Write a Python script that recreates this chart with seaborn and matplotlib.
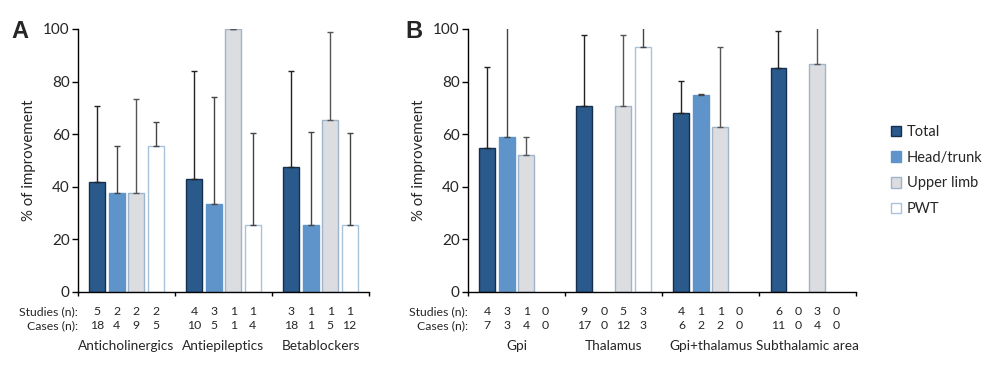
import numpy as np
import pandas as pd
import matplotlib.pyplot as plt
import seaborn as sns
from matplotlib.patches import Patch

# --------------------------
# Data
# --------------------------
series = ['Total', 'Head/trunk', 'Upper limb', 'PWT']

groups_a = ['Anticholinergics', 'Antiepileptics', 'Betablockers']
values_a = {
    'Total':      [42.0, 43.0, 47.5],
    'Head/trunk': [37.5, 33.5, 25.3],
    'Upper limb': [37.5, 100.0, 65.3],
    'PWT':        [55.5, 25.5, 25.5],
}
errors_a = {
    'Total':      [28.7, 40.9, 36.4],
    'Head/trunk': [18.0, 40.8, 35.4],
    'Upper limb': [35.8, 0.0, 33.7],
    'PWT':        [9.3, 35.0, 35.0],
}
studies_a = {'Total': [5, 4, 3], 'Head/trunk': [2, 3, 1], 'Upper limb': [2, 1, 1], 'PWT': [2, 1, 1]}
cases_a = {'Total': [18, 10, 18], 'Head/trunk': [4, 5, 1], 'Upper limb': [9, 1, 5], 'PWT': [5, 4, 12]}

groups_b = ['Gpi', 'Thalamus', 'Gpi+thalamus', 'Subthalamic area']
values_b = {
    'Total':      [54.9, 70.9, 68.0, 85.2],
    'Head/trunk': [58.8, np.nan, 75.0, np.nan],
    'Upper limb': [52.2, 70.6, 62.6, 86.6],
    'PWT':        [np.nan, 93.1, np.nan, np.nan],
}
errors_b = {
    'Total':      [30.7, 27.0, 12.3, 14.0],
    'Head/trunk': [45.0, np.nan, 0.3, np.nan],
    'Upper limb': [6.6, 27.0, 30.5, 20.0],
    'PWT':        [np.nan, 15.0, np.nan, np.nan],
}
studies_b = {'Total': [4, 9, 4, 6], 'Head/trunk': [3, 0, 1, 0], 'Upper limb': [1, 5, 1, 3], 'PWT': [0, 3, 0, 0]}
cases_b = {'Total': [7, 17, 6, 11], 'Head/trunk': [3, 0, 2, 0], 'Upper limb': [4, 12, 2, 4], 'PWT': [0, 3, 0, 0]}

face = {'Total': '#2a5a8c', 'Head/trunk': '#5e94c9', 'Upper limb': '#dcdde0', 'PWT': '#ffffff'}
edge = {'Total': '#15304f', 'Head/trunk': '#5e94c9', 'Upper limb': '#9fb3c9', 'PWT': '#a9c2dc'}
err_col = {'Total': '#222222', 'Head/trunk': '#444444', 'Upper limb': '#555555', 'PWT': '#444444'}

sns.set_theme(style="white")
plt.rcParams['font.family'] = ['Lato', 'DejaVu Sans']


def to_long(groups, values):
    rows = []
    for s in series:
        for g, v in zip(groups, values[s]):
            rows.append({'group': g, 'series': s, 'value': v})
    return pd.DataFrame(rows)


def draw_panel(ax, groups, values, errors, studies, cases):
    df = to_long(groups, values)
    sns.barplot(data=df, x='group', y='value', hue='series', order=groups,
                hue_order=series, palette=face, width=0.8, gap=0.18,
                errorbar=None, legend=False, ax=ax, saturation=1)
    n = len(groups)
    for s, cont in zip(series, ax.containers):
        for p in cont.patches:
            h = p.get_height()
            if not np.isfinite(h) or h == 0:
                continue
            p.set_edgecolor(edge[s])
            p.set_linewidth(1.0)
            xc = p.get_x() + p.get_width() / 2
            gi = int(round(xc))
            e = errors[s][gi]
            if np.isfinite(e):
                ax.errorbar([xc], [h], yerr=[[0], [e]], fmt='none', ecolor=err_col[s],
                            elinewidth=1.0, capsize=2, capthick=1.0, zorder=1)

    # counts under each bar
    offs = np.linspace(-0.3, 0.3, len(series))
    trans = ax.get_xaxis_transform()
    for si, s in enumerate(series):
        for gi in range(n):
            ax.text(gi + offs[si], -0.075, str(studies[s][gi]), transform=trans,
                    ha='center', va='center', fontsize=8.8)
            ax.text(gi + offs[si], -0.127, str(cases[s][gi]), transform=trans,
                    ha='center', va='center', fontsize=8.8)
    for gi, g in enumerate(groups):
        ax.text(gi, -0.205, g, transform=trans, ha='center', va='center', fontsize=9.8)
    ax.text(0.0, -0.075, 'Studies (n):', transform=ax.transAxes, ha='right', va='center', fontsize=8.8)
    ax.text(0.0, -0.127, 'Cases (n):', transform=ax.transAxes, ha='right', va='center', fontsize=8.8)

    ax.set_xlim(-0.5, n - 0.5)
    ax.set_ylim(0, 100)
    ax.set_yticks([0, 20, 40, 60, 80, 100])
    ax.tick_params(axis='y', which='major', direction='out', length=4, width=1,
                   color='black', labelsize=11, left=True, pad=2)
    ax.set_xticks(np.arange(-0.5, n, 1.0))
    ax.set_xticklabels([])
    ax.tick_params(axis='x', which='major', direction='out', length=3, width=1,
                   color='black', bottom=True)
    ax.set_xlabel('')
    ax.set_ylabel('% of improvement', fontsize=10.8, labelpad=5)
    for sp in ['top', 'right']:
        ax.spines[sp].set_visible(False)
    for sp in ['left', 'bottom']:
        ax.spines[sp].set_color('black')
        ax.spines[sp].set_linewidth(1.0)


fig = plt.figure(figsize=(9.84, 3.67), dpi=100)
ax_a = fig.add_axes([0.0793, 0.2044, 0.2957, 0.7166])
ax_b = fig.add_axes([0.4756, 0.2044, 0.3944, 0.7166])

draw_panel(ax_a, groups_a, values_a, errors_a, studies_a, cases_a)
draw_panel(ax_b, groups_b, values_b, errors_b, studies_b, cases_b)

fig.text(0.012, 0.915, 'A', fontsize=17, fontweight='bold', family='Liberation Sans', va='center')
fig.text(0.412, 0.915, 'B', fontsize=17, fontweight='bold', family='Liberation Sans', va='center')

handles = [Patch(facecolor=face[s], edgecolor=edge[s]) for s in series]
fig.legend(handles, series, loc='center left', bbox_to_anchor=(0.905, 0.535),
           frameon=False, fontsize=10.5, handlelength=0.75, handleheight=0.75,
           handletextpad=0.35, labelspacing=0.8, borderpad=0, borderaxespad=0)

fig.savefig('out.png', dpi=100)
